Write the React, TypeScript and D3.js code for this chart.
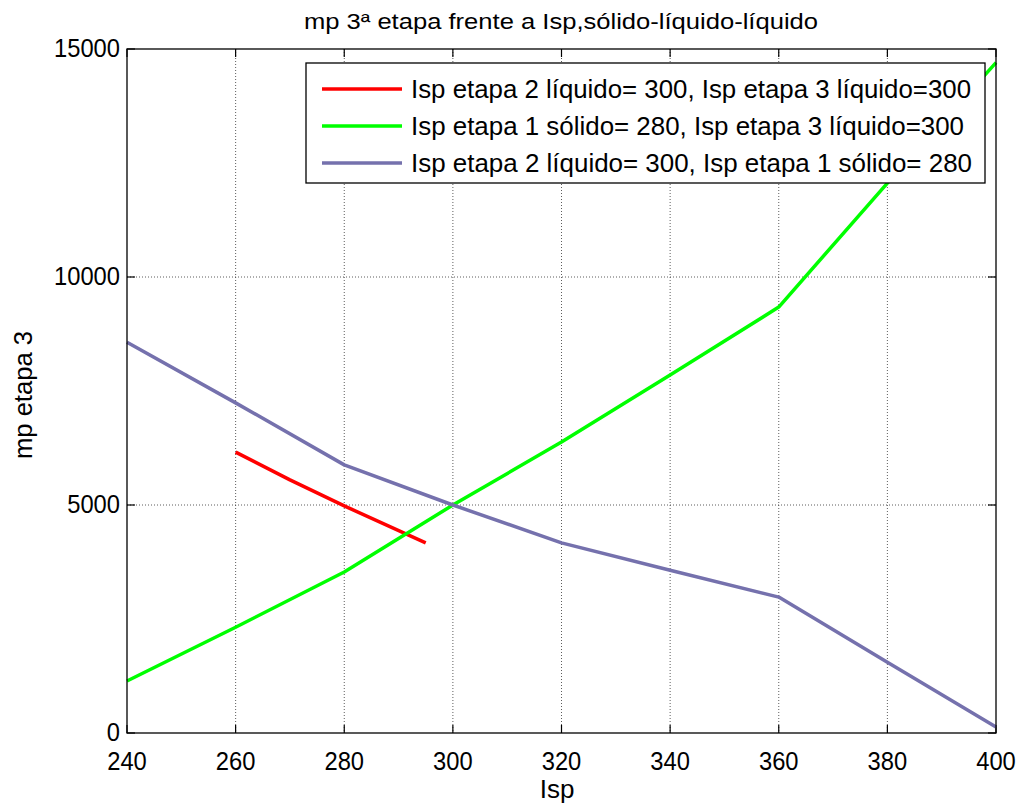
import { useRef, useEffect } from 'react';
import * as d3 from 'd3';

interface Pt { x: number; y: number; }

const W = 1023;
const H = 807;
const PLOT = { left: 127, right: 996, top: 49, bottom: 733 };

const xTicks = [240, 260, 280, 300, 320, 340, 360, 380, 400];
const yTicks = [0, 5000, 10000, 15000];

const redX = [260, 270, 280, 295];
const redY = [6160, 5550, 4980, 4170];

const greenX = [240, 260, 280, 300, 320, 340, 360, 380, 400];
const greenY = [1140, 2320, 3530, 5000, 6380, 7850, 9340, 12060, 14700];

const purpleX = [240, 260, 280, 300, 320, 340, 360, 380, 400];
const purpleY = [8570, 7240, 5880, 5000, 4170, 3570, 2980, 1550, 130];

const seriesLabels = [
  'Isp etapa 2 líquido= 300, Isp etapa 3 líquido=300',
  'Isp etapa 1 sólido= 280, Isp etapa 3 líquido=300',
  'Isp etapa 2 líquido= 300, Isp etapa 1 sólido= 280',
];
const labelWidths = [560, 553, 561];
const seriesColors = ['#ff0000', '#00ff00', '#7571ad'];

const FONT = 'Liberation Sans, Arial, sans-serif';

const zip = (xs: number[], ys: number[]): Pt[] => xs.map((x, i) => ({ x, y: ys[i] }));

export default function App() {
  const svgRef = useRef<SVGSVGElement>(null);

  useEffect(() => {
    const svg = svgRef.current;
    if (!svg) return;
    const root = d3.select(svg);
    root.selectAll('*').remove();

    const xScale = d3.scaleLinear().domain([240, 400]).range([PLOT.left, PLOT.right]);
    const yScale = d3.scaleLinear().domain([0, 15000]).range([PLOT.bottom, PLOT.top]);

    root.append('rect').attr('width', W).attr('height', H).attr('fill', '#fff');

    // Grid
    const grid = root.append('g').attr('stroke', '#333').attr('stroke-width', 0.8).attr('stroke-dasharray', '1,2');
    xTicks.slice(1, -1).forEach(t => {
      grid.append('line').attr('x1', xScale(t)).attr('x2', xScale(t)).attr('y1', PLOT.top).attr('y2', PLOT.bottom);
    });
    yTicks.slice(1, -1).forEach(t => {
      grid.append('line').attr('x1', PLOT.left).attr('x2', PLOT.right).attr('y1', yScale(t)).attr('y2', yScale(t));
    });

    // Inner ticks on all four sides
    const ticks = root.append('g').attr('stroke', '#000').attr('stroke-width', 1.2);
    xTicks.forEach(t => {
      const x = xScale(t);
      ticks.append('line').attr('x1', x).attr('x2', x).attr('y1', PLOT.bottom).attr('y2', PLOT.bottom - 8);
      ticks.append('line').attr('x1', x).attr('x2', x).attr('y1', PLOT.top).attr('y2', PLOT.top + 8);
    });
    yTicks.forEach(t => {
      const y = yScale(t);
      ticks.append('line').attr('x1', PLOT.left).attr('x2', PLOT.left + 8).attr('y1', y).attr('y2', y);
      ticks.append('line').attr('x1', PLOT.right).attr('x2', PLOT.right - 8).attr('y1', y).attr('y2', y);
    });

    // Lines
    const line = d3.line<Pt>().x(d => xScale(d.x)).y(d => yScale(d.y));
    const data = [zip(redX, redY), zip(greenX, greenY), zip(purpleX, purpleY)];
    data.forEach((d, i) => {
      root.append('path').datum(d).attr('d', line).attr('fill', 'none')
        .attr('stroke', seriesColors[i]).attr('stroke-width', 3.5)
        .attr('stroke-linejoin', 'round');
    });

    // Axes box
    root.append('rect').attr('x', PLOT.left).attr('y', PLOT.top)
      .attr('width', PLOT.right - PLOT.left).attr('height', PLOT.bottom - PLOT.top)
      .attr('fill', 'none').attr('stroke', '#000').attr('stroke-width', 1.3);

    // Tick labels
    xTicks.forEach(t => {
      const s = String(t);
      root.append('text').attr('x', xScale(t)).attr('y', PLOT.bottom + 37)
        .attr('text-anchor', 'middle').attr('font-family', FONT).attr('font-size', 26)
        .attr('textLength', s.length * 13.2).attr('lengthAdjust', 'spacingAndGlyphs')
        .attr('fill', '#000').text(s);
    });
    yTicks.forEach(t => {
      const s = String(t);
      root.append('text').attr('x', PLOT.left - 7).attr('y', yScale(t) + 8)
        .attr('text-anchor', 'end').attr('font-family', FONT).attr('font-size', 26)
        .attr('textLength', s.length * 13.2).attr('lengthAdjust', 'spacingAndGlyphs')
        .attr('fill', '#000').text(s);
    });

    // Title and axis labels
    root.append('text').attr('x', 304).attr('y', 29)
      .attr('font-family', FONT).attr('font-size', 21.5)
      .attr('textLength', 514).attr('lengthAdjust', 'spacingAndGlyphs')
      .attr('fill', '#000').text('mp 3ª etapa frente a Isp,sólido-líquido-líquido');
    root.append('text').attr('x', 557).attr('y', 798)
      .attr('text-anchor', 'middle').attr('font-family', FONT).attr('font-size', 26)
      .attr('fill', '#000').text('Isp');
    root.append('text').attr('transform', `translate(32,${(PLOT.top + PLOT.bottom) / 2 + 4}) rotate(-90)`)
      .attr('text-anchor', 'middle').attr('font-family', FONT).attr('font-size', 26)
      .attr('textLength', 128).attr('lengthAdjust', 'spacingAndGlyphs')
      .attr('fill', '#000').text('mp etapa 3');

    // Legend
    const lg = root.append('g');
    lg.append('rect').attr('x', 306).attr('y', 63).attr('width', 679).attr('height', 120)
      .attr('fill', '#fff').attr('stroke', '#000').attr('stroke-width', 1.3);
    seriesLabels.forEach((s, i) => {
      const y = 89 + i * 37;
      lg.append('line').attr('x1', 322).attr('x2', 402).attr('y1', y).attr('y2', y)
        .attr('stroke', seriesColors[i]).attr('stroke-width', 3.5);
      lg.append('text').attr('x', 411).attr('y', y + 9).attr('font-family', FONT)
        .attr('font-size', 26).attr('textLength', labelWidths[i]).attr('lengthAdjust', 'spacingAndGlyphs')
        .attr('fill', '#000').text(s);
    });
  }, []);

  return (
    <div style={{ position: 'absolute', left: 0, top: 0 }}>
      <svg ref={svgRef} width={W} height={H} style={{ display: 'block' }} />
    </div>
  );
}
